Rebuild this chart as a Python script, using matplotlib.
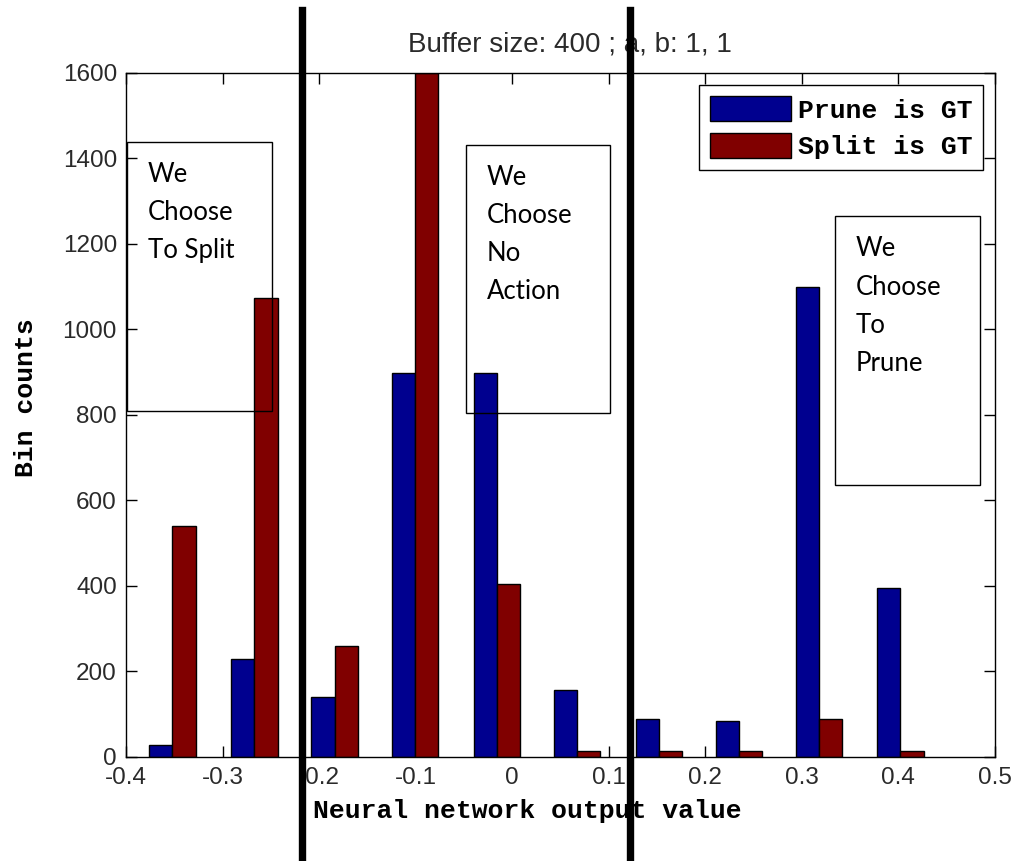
import matplotlib
matplotlib.use('Agg')
import matplotlib.pyplot as plt
from matplotlib.patches import Rectangle
from matplotlib.lines import Line2D
import matplotlib.transforms as mtransforms

# --- data ---
bin_centers = [-0.352, -0.267, -0.184, -0.101, -0.016, 0.067, 0.152, 0.235, 0.318, 0.402]
prune_counts = [27, 228, 140, 897, 897, 157, 88, 84, 1100, 395]
split_counts = [540, 1072, 260, 1600, 404, 14, 14, 13, 88, 13]
series_labels = ['Prune is GT', 'Split is GT']

x_ticks = [-0.4, -0.3, -0.2, -0.1, 0, 0.1, 0.2, 0.3, 0.4, 0.5]
x_tick_labels = ['-0.4', '-0.3', '-0.2', '-0.1', '0', '0.1', '0.2', '0.3', '0.4', '0.5']
y_ticks = [0, 200, 400, 600, 800, 1000, 1200, 1400, 1600]

# decision thresholds (thick black lines) and the annotation boxes
thresholds = [-0.218, 0.1215]
region_boxes = [
    # (x0, x1, y0, y1, text)
    (-0.3993, -0.2488, 809, 1439, 'We\nChoose\nTo Split'),
    (-0.0478, 0.1016, 804, 1432, 'We\nChoose\nNo\nAction'),
    (0.3343, 0.4848, 635, 1264, 'We\nChoose\nTo\nPrune'),
]

blue = '#00008f'
red = '#800000'
bar_w = 0.024

tick_font = 'Liberation Sans'
mono = 'Liberation Mono'

fig = plt.figure(figsize=(10.13, 8.61), dpi=100)
ax = fig.add_axes([0.1244, 0.1208, 0.8578, 0.7948])

ax.bar([c - bar_w for c in bin_centers], prune_counts, width=bar_w, align='edge',
       color=blue, edgecolor='black', linewidth=1, label=series_labels[0], zorder=2)
ax.bar(bin_centers, split_counts, width=bar_w, align='edge',
       color=red, edgecolor='black', linewidth=1, label=series_labels[1], zorder=2)

ax.set_xlim(-0.4, 0.5)
ax.set_ylim(0, 1600)
ax.set_xticks(x_ticks)
ax.set_xticklabels(x_tick_labels)
ax.set_yticks(y_ticks)
ax.tick_params(direction='in', top=True, right=True, length=7.7, width=1,
               labelsize=17.5, colors='black', labelcolor='#2a2a2a')
ax.tick_params(axis='x', pad=7.5)
ax.tick_params(axis='y', pad=6.5)
for lab in ax.get_xticklabels() + ax.get_yticklabels():
    lab.set_fontfamily(tick_font)
for sp in ax.spines.values():
    sp.set_linewidth(1)
    sp.set_color('black')

ax.set_title('Buffer size: 400 ; a, b: 1, 1', fontfamily=tick_font, fontsize=20,
             pad=15, x=0.511, color='#2a2a2a')

ax.set_xlabel('Neural network output value', fontfamily=mono, fontweight='bold', fontsize=19)
ax.xaxis.set_label_coords(0.4614, -0.061)
ax.set_ylabel('Bin counts', fontfamily=mono, fontweight='bold', fontsize=19)
ax.yaxis.set_label_coords(-0.101, 0.5246)

leg = ax.legend(loc='upper right', bbox_to_anchor=(983.3 / 1013, 1 - 85 / 861),
                bbox_transform=fig.transFigure, borderaxespad=0,
                prop={'family': mono, 'weight': 'bold', 'size': 19},
                handlelength=3.05, handleheight=1.09, handletextpad=0.26,
                labelspacing=0.38, borderpad=0.42, fancybox=False)
leg.get_frame().set_edgecolor('black')
leg.get_frame().set_linewidth(1)
leg.get_frame().set_alpha(1)

# annotation boxes
for x0, x1, y0, y1, txt in region_boxes:
    ax.add_patch(Rectangle((x0, y0), x1 - x0, y1 - y0, fill=False, edgecolor='black',
                           linewidth=1, zorder=5, clip_on=False))
    ax.annotate(txt, xy=(x0, y1), xytext=(21, -20), textcoords='offset pixels',
                ha='left', va='top', fontfamily='Lato', fontsize=18.5,
                linespacing=1.66, zorder=6)

# thick threshold lines running over the whole figure height
trans = mtransforms.blended_transform_factory(ax.transData, fig.transFigure)
for t in thresholds:
    fig.add_artist(Line2D([t, t], [0, 1 - 9.5 / 861], transform=trans,
                          color='black', linewidth=5.3, zorder=10))

fig.savefig('out.png', dpi=100)
